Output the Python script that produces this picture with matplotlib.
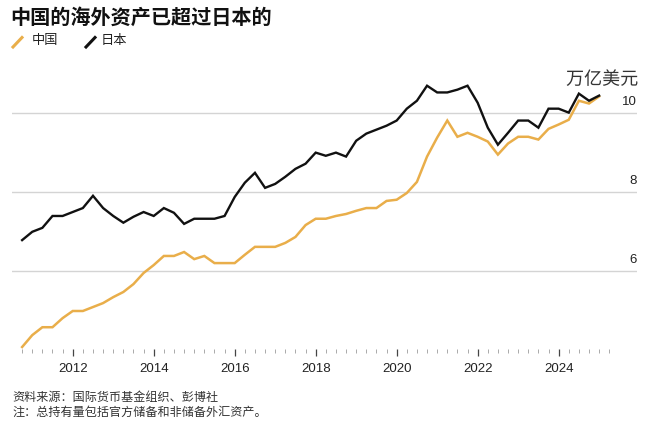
import numpy as np
import matplotlib
matplotlib.use("Agg")
import matplotlib.pyplot as plt
import matplotlib.patheffects as pe
from matplotlib.lines import Line2D
import matplotlib.transforms as mtransforms

plt.rcParams['font.family'] = ['Liberation Sans', 'Noto Sans CJK SC', 'DejaVu Sans']

# ---- data (quarterly, trillion USD) ----
start_year = 2010.75
china = [4.08, 4.38, 4.58, 4.58, 4.81, 4.99, 4.99, 5.09, 5.19, 5.34, 5.47, 5.67, 5.95, 6.15, 6.38, 6.38,
         6.48, 6.30, 6.38, 6.20, 6.20, 6.20, 6.41, 6.61, 6.61, 6.61, 6.71, 6.86, 7.16, 7.32,
         7.32, 7.39, 7.44, 7.52, 7.59, 7.59, 7.77, 7.80, 7.97, 8.25, 8.89, 9.37, 9.80, 9.39, 9.49, 9.39,
         9.27, 8.94, 9.22, 9.39, 9.39, 9.32, 9.59, 9.70, 9.82, 10.30, 10.23, 10.41]
japan = [6.78, 6.99, 7.09, 7.39, 7.39, 7.49, 7.59, 7.90, 7.59, 7.39, 7.22, 7.37, 7.49, 7.39, 7.59, 7.47,
         7.19, 7.32, 7.32, 7.32, 7.39, 7.87, 8.23, 8.48, 8.10, 8.20, 8.38, 8.58, 8.71, 8.99,
         8.91, 8.99, 8.89, 9.29, 9.47, 9.57, 9.67, 9.80, 10.10, 10.30, 10.68, 10.51, 10.51, 10.58, 10.68, 10.25,
         9.62, 9.19, 9.49, 9.80, 9.80, 9.62, 10.10, 10.10, 10.00, 10.48, 10.30, 10.43]
x_years = start_year + 0.25 * np.arange(len(china))

year_ticks = [2012, 2014, 2016, 2018, 2020, 2022, 2024]
y_ticks = [6, 8, 10]
y_tick_labels = ['6', '8', '10']

title = '中国的海外资产已超过日本的'
legend_labels = ['中国', '日本']
unit_label = '万亿美元'
source = '资料来源：国际货币基金组织、彭博社'
note = '注：总持有量包括官方储备和非储备外汇资产。'

ORANGE = '#E9AE4A'
BLACK = '#111111'
TEXT = '#222222'

W, H = 660, 422
fig = plt.figure(figsize=(W / 100, H / 100), dpi=100)
ax = fig.add_axes([12 / W, 1 - 349 / H, (637 - 12) / W, (349 - 77) / H])

ax.set_xlim(2010.5, 2010.75 + (637 - 22) / 40.5)
ax.set_ylim(4.03, 10.9)

for v in y_ticks:
    ax.axhline(v, color='#d4d4d4', lw=1.0, zorder=1)

ax.plot(x_years, china, color=ORANGE, lw=1.8, zorder=3, solid_joinstyle='miter')
ax.plot(x_years, japan, color=BLACK, lw=1.7, zorder=4, solid_joinstyle='miter')

for s in ax.spines.values():
    s.set_visible(False)
ax.set_yticks([])
ax.set_xticks(year_ticks)
ax.set_xticklabels([str(y) for y in year_ticks], fontsize=9.5, color=TEXT)
ax.set_xticks(np.arange(2010.75, 2025.26, 0.25), minor=True)
ax.tick_params(axis='x', which='major', direction='out', length=5, width=0.9, color='#444444', pad=5)
ax.tick_params(axis='x', which='minor', direction='out', length=3, width=0.7, color='#aaaaaa')

trans = mtransforms.blended_transform_factory(ax.transAxes, ax.transData)
for v, lab in zip(y_ticks, y_tick_labels):
    ax.annotate(lab, xy=(1.0, v), xycoords=trans, xytext=(0, 8), textcoords='offset points',
                ha='right', va='center', fontsize=9.5, color=TEXT)

fig.text(638 / W, 1 - 80 / H, unit_label, ha='right', va='center', fontsize=13, color='#333333',
         path_effects=[pe.withStroke(linewidth=3, foreground='white')], zorder=10)

fig.text(10 / W, 1 - 18 / H, title, ha='left', va='center', fontsize=14.5, fontweight='bold', color='#111111')

# legend
fig.add_artist(Line2D([13 / W, 22 / W], [1 - 47 / H, 1 - 37.5 / H], color=ORANGE, lw=2.2))
fig.text(32 / W, 1 - 41 / H, legend_labels[0], ha='left', va='center', fontsize=9.5, color=TEXT)
fig.add_artist(Line2D([86 / W, 95 / W], [1 - 47 / H, 1 - 37.5 / H], color=BLACK, lw=2.2))
fig.text(101 / W, 1 - 41 / H, legend_labels[1], ha='left', va='center', fontsize=9.5, color=TEXT)

fig.text(12 / W, 1 - 398 / H, source, ha='left', va='center', fontsize=8.7, color='#333333')
fig.text(12 / W, 1 - 413 / H, note, ha='left', va='center', fontsize=8.7, color='#333333')

fig.savefig('out.png', dpi=100)
